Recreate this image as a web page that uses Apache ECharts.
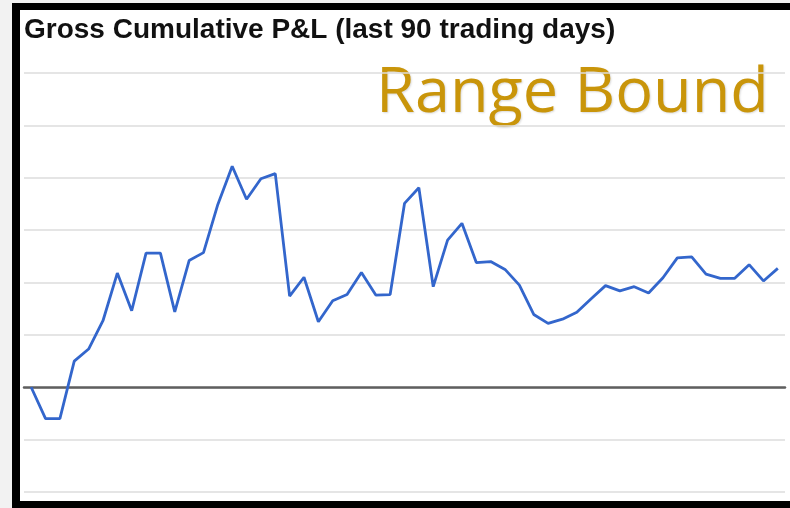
<!DOCTYPE html>
<html>
<head>
<meta charset="utf-8">
<script src="https://cdn.jsdelivr.net/npm/echarts@6/dist/echarts.min.js"></script>
<style>
  html, body { margin: 0; padding: 0; background: #f2f2f2; }
  /* black frame around the chart, open on the right side */
  .frame {
    position: absolute; left: 12px; top: 3px; width: 800px; height: 505px;
    box-sizing: border-box; background: #fff;
    border-left: 8px solid #000; border-top: 7px solid #000; border-bottom: 7px solid #000;
  }
  .chart-container { position: absolute; left: 0; top: 0; width: 790px; height: 508px; }
</style>
</head>
<body>
<div class="frame"></div>
<div class="chart-container" id="chart"></div>
<script>
// 53 trading days shown (the last point sits near the right edge)
const days = [];
for (let i = 1; i <= 53; i++) days.push("D" + i);

// cumulative P&L values
const pnl = [
  0.00, -0.60, -0.60, 0.50, 0.73, 1.27, 2.18, 1.46, 2.56, 2.56,
  1.44, 2.42, 2.57, 3.49, 4.22, 3.59, 3.98, 4.08, 1.74, 2.10,
  1.25, 1.65, 1.77, 2.19, 1.76, 1.77, 3.51, 3.81, 1.92, 2.81,
  3.13, 2.38, 2.40, 2.25, 1.95, 1.39, 1.22, 1.30, 1.43, 1.69,
  1.94, 1.84, 1.92, 1.80, 2.09, 2.47, 2.49, 2.16, 2.08, 2.08,
  2.34, 2.03, 2.27
];

const titleText = "Gross Cumulative P&L (last 90 trading days)";
const stampText = "Range Bound";

let myChart = echarts.init(document.getElementById("chart"));
let options = {
  backgroundColor: "transparent",
  animation: false,
  title: {
    text: titleText,
    left: 24,
    top: 16,
    padding: 0,
    textStyle: {
      fontFamily: "Liberation Sans",
      fontWeight: "bold",
      fontSize: 28,
      color: "#111"
    }
  },
  graphic: [
    {
      type: "text",
      left: 376,
      top: 63,
      style: {
        text: stampText,
        font: "63px 'Open Sans'",
        fill: "#c9950a",
        textShadowColor: "rgba(0,0,0,0.15)",
        textShadowBlur: 2,
        textShadowOffsetX: 1,
        textShadowOffsetY: 1
      }
    }
  ],
  grid: {
    left: 24,
    right: 5,
    top: 73,
    bottom: 16
  },
  xAxis: {
    type: "category",
    boundaryGap: true,
    data: days,
    axisLine: {
      show: true,
      onZero: true,
      lineStyle: { color: "#5f5f5f", width: 2.5 }
    },
    axisTick: { show: false },
    axisLabel: { show: false },
    splitLine: { show: false }
  },
  yAxis: {
    type: "value",
    min: -2,
    max: 6,
    interval: 1,
    axisLine: { show: false },
    axisTick: { show: false },
    axisLabel: { show: false },
    splitLine: {
      show: true,
      lineStyle: { color: "#dcdcdc", width: 1.6 }
    }
  },
  series: [
    {
      name: "P&L",
      type: "line",
      data: pnl,
      symbol: "none",
      lineStyle: { color: "#3366cc", width: 2.8 },
      z: 3
    }
  ]
};
myChart.setOption(options);
</script>
</body>
</html>
